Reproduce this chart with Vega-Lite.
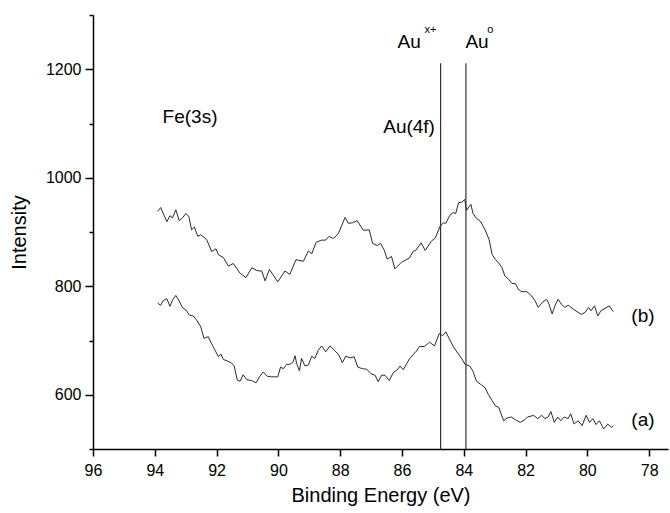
{
  "$schema": "https://vega.github.io/schema/vega-lite/v6.json",
  "width": 575,
  "height": 434,
  "autosize": "none",
  "padding": {"left": 93, "top": 15, "right": 2, "bottom": 64},
  "background": "white",
  "config": {
    "view": {"stroke": null},
    "font": "Liberation Sans",
    "axis": {
      "grid": false,
      "domainColor": "#000",
      "domainWidth": 1.5,
      "tickColor": "#000",
      "tickWidth": 1.5,
      "labelColor": "#000",
      "titleColor": "#000",
      "labelFont": "Liberation Sans",
      "titleFont": "Liberation Sans",
      "labelFontSize": 16,
      "titleFontSize": 20,
      "titleFontWeight": "normal",
      "labelOverlap": false,
      "labelFlush": false
    }
  },
  "datasets": {
    "spectra": [
      {"s": "b", "E": 93.91, "I": 938}, {"s": "b", "E": 93.81, "I": 945}, {"s": "b", "E": 93.61, "I": 919},
      {"s": "b", "E": 93.51, "I": 930}, {"s": "b", "E": 93.43, "I": 926}, {"s": "b", "E": 93.32, "I": 941},
      {"s": "b", "E": 93.21, "I": 921}, {"s": "b", "E": 93.10, "I": 926}, {"s": "b", "E": 93.00, "I": 934},
      {"s": "b", "E": 92.90, "I": 929}, {"s": "b", "E": 92.81, "I": 904}, {"s": "b", "E": 92.72, "I": 909},
      {"s": "b", "E": 92.61, "I": 892}, {"s": "b", "E": 92.51, "I": 895}, {"s": "b", "E": 92.32, "I": 886},
      {"s": "b", "E": 92.16, "I": 864}, {"s": "b", "E": 92.02, "I": 869}, {"s": "b", "E": 91.94, "I": 858},
      {"s": "b", "E": 91.78, "I": 853}, {"s": "b", "E": 91.62, "I": 837}, {"s": "b", "E": 91.46, "I": 842},
      {"s": "b", "E": 91.24, "I": 824}, {"s": "b", "E": 91.05, "I": 816}, {"s": "b", "E": 90.86, "I": 834},
      {"s": "b", "E": 90.70, "I": 829}, {"s": "b", "E": 90.54, "I": 828}, {"s": "b", "E": 90.43, "I": 810},
      {"s": "b", "E": 90.29, "I": 831}, {"s": "b", "E": 90.02, "I": 808}, {"s": "b", "E": 89.79, "I": 828},
      {"s": "b", "E": 89.63, "I": 822}, {"s": "b", "E": 89.43, "I": 849}, {"s": "b", "E": 89.19, "I": 846},
      {"s": "b", "E": 89.03, "I": 865}, {"s": "b", "E": 88.92, "I": 860}, {"s": "b", "E": 88.78, "I": 881},
      {"s": "b", "E": 88.60, "I": 885}, {"s": "b", "E": 88.47, "I": 885}, {"s": "b", "E": 88.36, "I": 892},
      {"s": "b", "E": 88.22, "I": 888}, {"s": "b", "E": 88.06, "I": 897}, {"s": "b", "E": 87.84, "I": 927},
      {"s": "b", "E": 87.74, "I": 916}, {"s": "b", "E": 87.60, "I": 917}, {"s": "b", "E": 87.45, "I": 921},
      {"s": "b", "E": 87.25, "I": 903}, {"s": "b", "E": 87.06, "I": 904}, {"s": "b", "E": 86.95, "I": 879},
      {"s": "b", "E": 86.80, "I": 875}, {"s": "b", "E": 86.69, "I": 879}, {"s": "b", "E": 86.57, "I": 866},
      {"s": "b", "E": 86.48, "I": 850}, {"s": "b", "E": 86.34, "I": 855}, {"s": "b", "E": 86.23, "I": 832},
      {"s": "b", "E": 86.02, "I": 844}, {"s": "b", "E": 85.76, "I": 852}, {"s": "b", "E": 85.64, "I": 864},
      {"s": "b", "E": 85.54, "I": 867}, {"s": "b", "E": 85.38, "I": 880}, {"s": "b", "E": 85.25, "I": 866},
      {"s": "b", "E": 85.05, "I": 883}, {"s": "b", "E": 84.92, "I": 889}, {"s": "b", "E": 84.77, "I": 910},
      {"s": "b", "E": 84.66, "I": 917}, {"s": "b", "E": 84.58, "I": 916}, {"s": "b", "E": 84.45, "I": 931},
      {"s": "b", "E": 84.34, "I": 936}, {"s": "b", "E": 84.26, "I": 934}, {"s": "b", "E": 84.17, "I": 954},
      {"s": "b", "E": 84.06, "I": 955}, {"s": "b", "E": 83.97, "I": 960}, {"s": "b", "E": 83.91, "I": 940},
      {"s": "b", "E": 83.77, "I": 951}, {"s": "b", "E": 83.70, "I": 934}, {"s": "b", "E": 83.59, "I": 925},
      {"s": "b", "E": 83.45, "I": 919}, {"s": "b", "E": 83.31, "I": 904}, {"s": "b", "E": 83.18, "I": 886},
      {"s": "b", "E": 83.08, "I": 858}, {"s": "b", "E": 82.97, "I": 849}, {"s": "b", "E": 82.87, "I": 843},
      {"s": "b", "E": 82.76, "I": 834}, {"s": "b", "E": 82.67, "I": 819}, {"s": "b", "E": 82.55, "I": 813},
      {"s": "b", "E": 82.44, "I": 805}, {"s": "b", "E": 82.33, "I": 805}, {"s": "b", "E": 82.23, "I": 794},
      {"s": "b", "E": 82.12, "I": 790}, {"s": "b", "E": 81.96, "I": 790}, {"s": "b", "E": 81.80, "I": 782},
      {"s": "b", "E": 81.69, "I": 773}, {"s": "b", "E": 81.59, "I": 761}, {"s": "b", "E": 81.46, "I": 770},
      {"s": "b", "E": 81.32, "I": 776}, {"s": "b", "E": 81.24, "I": 767}, {"s": "b", "E": 81.14, "I": 749},
      {"s": "b", "E": 81.05, "I": 764}, {"s": "b", "E": 80.95, "I": 776}, {"s": "b", "E": 80.84, "I": 767},
      {"s": "b", "E": 80.73, "I": 761}, {"s": "b", "E": 80.62, "I": 765}, {"s": "b", "E": 80.46, "I": 758},
      {"s": "b", "E": 80.30, "I": 752}, {"s": "b", "E": 80.20, "I": 748}, {"s": "b", "E": 80.07, "I": 752},
      {"s": "b", "E": 79.96, "I": 761}, {"s": "b", "E": 79.88, "I": 755}, {"s": "b", "E": 79.77, "I": 764},
      {"s": "b", "E": 79.66, "I": 745}, {"s": "b", "E": 79.56, "I": 755}, {"s": "b", "E": 79.43, "I": 759},
      {"s": "b", "E": 79.29, "I": 764}, {"s": "b", "E": 79.16, "I": 753},

      {"s": "a", "E": 93.91, "I": 769}, {"s": "a", "E": 93.81, "I": 765}, {"s": "a", "E": 93.72, "I": 774},
      {"s": "a", "E": 93.61, "I": 777}, {"s": "a", "E": 93.51, "I": 763}, {"s": "a", "E": 93.42, "I": 775},
      {"s": "a", "E": 93.32, "I": 783}, {"s": "a", "E": 93.22, "I": 774}, {"s": "a", "E": 93.11, "I": 761},
      {"s": "a", "E": 92.99, "I": 756}, {"s": "a", "E": 92.88, "I": 747}, {"s": "a", "E": 92.75, "I": 745},
      {"s": "a", "E": 92.64, "I": 737}, {"s": "a", "E": 92.51, "I": 725}, {"s": "a", "E": 92.41, "I": 704},
      {"s": "a", "E": 92.27, "I": 707}, {"s": "a", "E": 92.16, "I": 694}, {"s": "a", "E": 92.05, "I": 682},
      {"s": "a", "E": 91.94, "I": 670}, {"s": "a", "E": 91.86, "I": 675}, {"s": "a", "E": 91.78, "I": 665},
      {"s": "a", "E": 91.64, "I": 662}, {"s": "a", "E": 91.53, "I": 659}, {"s": "a", "E": 91.43, "I": 653},
      {"s": "a", "E": 91.33, "I": 627}, {"s": "a", "E": 91.24, "I": 625}, {"s": "a", "E": 91.14, "I": 637},
      {"s": "a", "E": 91.03, "I": 628}, {"s": "a", "E": 90.86, "I": 626}, {"s": "a", "E": 90.72, "I": 622},
      {"s": "a", "E": 90.60, "I": 634}, {"s": "a", "E": 90.49, "I": 642}, {"s": "a", "E": 90.36, "I": 634},
      {"s": "a", "E": 90.22, "I": 633}, {"s": "a", "E": 90.02, "I": 633}, {"s": "a", "E": 89.93, "I": 651},
      {"s": "a", "E": 89.84, "I": 648}, {"s": "a", "E": 89.73, "I": 656}, {"s": "a", "E": 89.63, "I": 656},
      {"s": "a", "E": 89.52, "I": 661}, {"s": "a", "E": 89.46, "I": 672}, {"s": "a", "E": 89.41, "I": 658},
      {"s": "a", "E": 89.32, "I": 644}, {"s": "a", "E": 89.25, "I": 667}, {"s": "a", "E": 89.14, "I": 653},
      {"s": "a", "E": 89.03, "I": 655}, {"s": "a", "E": 88.92, "I": 671}, {"s": "a", "E": 88.82, "I": 667},
      {"s": "a", "E": 88.71, "I": 682}, {"s": "a", "E": 88.60, "I": 690}, {"s": "a", "E": 88.47, "I": 679},
      {"s": "a", "E": 88.33, "I": 690}, {"s": "a", "E": 88.20, "I": 683}, {"s": "a", "E": 88.04, "I": 673},
      {"s": "a", "E": 87.93, "I": 659}, {"s": "a", "E": 87.82, "I": 671}, {"s": "a", "E": 87.68, "I": 668},
      {"s": "a", "E": 87.55, "I": 670}, {"s": "a", "E": 87.43, "I": 651}, {"s": "a", "E": 87.28, "I": 648},
      {"s": "a", "E": 87.14, "I": 647}, {"s": "a", "E": 87.01, "I": 639}, {"s": "a", "E": 86.87, "I": 636},
      {"s": "a", "E": 86.77, "I": 624}, {"s": "a", "E": 86.66, "I": 636}, {"s": "a", "E": 86.55, "I": 636},
      {"s": "a", "E": 86.41, "I": 626}, {"s": "a", "E": 86.28, "I": 641}, {"s": "a", "E": 86.17, "I": 645},
      {"s": "a", "E": 86.06, "I": 653}, {"s": "a", "E": 85.96, "I": 646}, {"s": "a", "E": 85.76, "I": 666},
      {"s": "a", "E": 85.54, "I": 680}, {"s": "a", "E": 85.43, "I": 689}, {"s": "a", "E": 85.27, "I": 689},
      {"s": "a", "E": 85.11, "I": 697}, {"s": "a", "E": 84.95, "I": 690}, {"s": "a", "E": 84.79, "I": 713},
      {"s": "a", "E": 84.68, "I": 709}, {"s": "a", "E": 84.58, "I": 716}, {"s": "a", "E": 84.45, "I": 701},
      {"s": "a", "E": 84.34, "I": 689}, {"s": "a", "E": 84.20, "I": 677}, {"s": "a", "E": 84.06, "I": 666},
      {"s": "a", "E": 83.96, "I": 656}, {"s": "a", "E": 83.81, "I": 653}, {"s": "a", "E": 83.70, "I": 643},
      {"s": "a", "E": 83.59, "I": 625}, {"s": "a", "E": 83.45, "I": 619}, {"s": "a", "E": 83.31, "I": 613},
      {"s": "a", "E": 83.21, "I": 601}, {"s": "a", "E": 83.08, "I": 589}, {"s": "a", "E": 82.97, "I": 579},
      {"s": "a", "E": 82.87, "I": 577}, {"s": "a", "E": 82.71, "I": 552}, {"s": "a", "E": 82.60, "I": 557},
      {"s": "a", "E": 82.46, "I": 559}, {"s": "a", "E": 82.33, "I": 554}, {"s": "a", "E": 82.17, "I": 549},
      {"s": "a", "E": 82.03, "I": 554}, {"s": "a", "E": 81.93, "I": 559}, {"s": "a", "E": 81.74, "I": 562},
      {"s": "a", "E": 81.61, "I": 556}, {"s": "a", "E": 81.48, "I": 562}, {"s": "a", "E": 81.37, "I": 556},
      {"s": "a", "E": 81.27, "I": 559}, {"s": "a", "E": 81.18, "I": 569}, {"s": "a", "E": 81.07, "I": 549},
      {"s": "a", "E": 80.96, "I": 559}, {"s": "a", "E": 80.86, "I": 552}, {"s": "a", "E": 80.75, "I": 559},
      {"s": "a", "E": 80.62, "I": 556}, {"s": "a", "E": 80.54, "I": 565}, {"s": "a", "E": 80.43, "I": 546},
      {"s": "a", "E": 80.30, "I": 552}, {"s": "a", "E": 80.17, "I": 543}, {"s": "a", "E": 80.04, "I": 562},
      {"s": "a", "E": 79.93, "I": 549}, {"s": "a", "E": 79.82, "I": 556}, {"s": "a", "E": 79.72, "I": 545},
      {"s": "a", "E": 79.61, "I": 552}, {"s": "a", "E": 79.47, "I": 537}, {"s": "a", "E": 79.34, "I": 546},
      {"s": "a", "E": 79.23, "I": 540}, {"s": "a", "E": 79.16, "I": 543}
    ],
    "markers": [
      {"E": 84.75, "I0": 500, "I1": 1211},
      {"E": 83.93, "I0": 500, "I1": 1211}
    ],
    "bigText": [
      {"E": 92.86, "I": 1112, "t": "Fe(3s)"},
      {"E": 85.77, "I": 1093, "t": "Au(4f)"},
      {"E": 85.77, "I": 1250, "t": "Au"},
      {"E": 83.57, "I": 1250, "t": "Au"},
      {"E": 78.20, "I": 745, "t": "(b)"},
      {"E": 78.20, "I": 553, "t": "(a)"}
    ],
    "supText": [
      {"E": 85.08, "I": 1272, "t": "x+"},
      {"E": 83.14, "I": 1273, "t": "o"}
    ]
  },
  "layer": [
    {
      "data": {"name": "spectra"},
      "mark": {"type": "line", "color": "#2a2a2a", "strokeWidth": 1},
      "encoding": {
        "x": {
          "field": "E", "type": "quantitative",
          "scale": {"domain": [77.39, 96], "reverse": true, "nice": false, "zero": false},
          "axis": {
            "title": "Binding Energy (eV)",
            "values": [96, 95, 94, 93, 92, 91, 90, 89, 88, 87, 86, 85, 84, 83, 82, 81, 80, 79, 78],
            "labelExpr": "datum.value % 2 === 0 ? '' + datum.value : ''",
            "tickSize": {"condition": {"test": "datum.value % 2 === 0", "value": 7}, "value": 4},
            "labelPadding": 6,
            "titlePadding": 7
          }
        },
        "y": {
          "field": "I", "type": "quantitative",
          "scale": {"domain": [500, 1300], "nice": false, "zero": false},
          "axis": {
            "title": "Intensity",
            "values": [500, 600, 700, 800, 900, 1000, 1100, 1200, 1300],
            "labelExpr": "datum.value % 200 === 0 ? '' + datum.value : ''",
            "tickSize": {"condition": {"test": "datum.value % 200 === 0", "value": 8}, "value": 4},
            "labelPadding": 4,
            "titlePadding": 16
          }
        },
        "detail": {"field": "s", "type": "nominal"}
      }
    },
    {
      "data": {"name": "markers"},
      "mark": {"type": "rule", "color": "#333", "strokeWidth": 1.2},
      "encoding": {
        "x": {"field": "E", "type": "quantitative"},
        "y": {"field": "I0", "type": "quantitative"},
        "y2": {"field": "I1"}
      }
    },
    {
      "data": {"name": "bigText"},
      "mark": {"type": "text", "font": "Liberation Sans", "fontSize": 19, "color": "#000", "align": "center", "baseline": "middle"},
      "encoding": {
        "x": {"field": "E", "type": "quantitative"},
        "y": {"field": "I", "type": "quantitative"},
        "text": {"field": "t"}
      }
    },
    {
      "data": {"name": "supText"},
      "mark": {"type": "text", "font": "Liberation Sans", "fontSize": 11, "color": "#000", "align": "center", "baseline": "middle"},
      "encoding": {
        "x": {"field": "E", "type": "quantitative"},
        "y": {"field": "I", "type": "quantitative"},
        "text": {"field": "t"}
      }
    }
  ]
}
